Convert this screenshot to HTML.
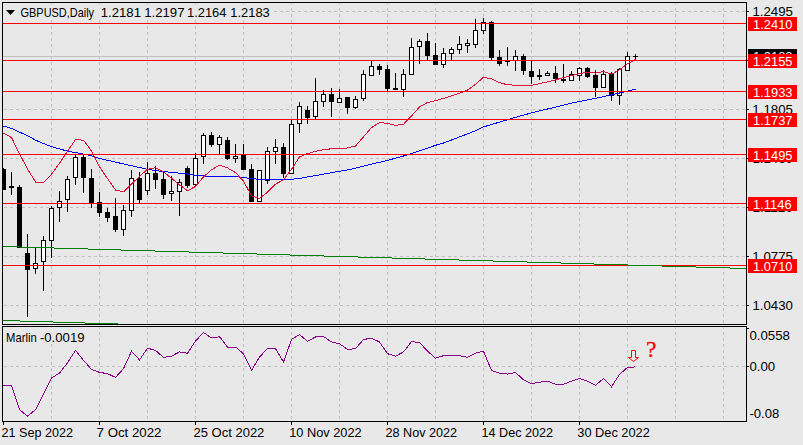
<!DOCTYPE html><html><head><meta charset="utf-8"><style>html,body{margin:0;padding:0;background:#e8e8e8;overflow:hidden}svg text{white-space:pre}</style></head><body><svg width="803" height="445" viewBox="0 0 803 445" style="display:block">
<rect width="803" height="445" fill="#e8e8e8"/>
<defs><clipPath id="cm"><rect x="3" y="3" width="743" height="321"/></clipPath><clipPath id="ci"><rect x="3" y="327" width="743" height="94"/></clipPath></defs>
<g stroke="#c0c0c0" stroke-width="1" stroke-dasharray="3,3" shape-rendering="crispEdges"><line x1="51.5" y1="3" x2="51.5" y2="324" stroke-dashoffset="1"/><line x1="51.5" y1="327" x2="51.5" y2="421" stroke-dashoffset="1"/><line x1="99.5" y1="3" x2="99.5" y2="324" stroke-dashoffset="1"/><line x1="99.5" y1="327" x2="99.5" y2="421" stroke-dashoffset="1"/><line x1="147.5" y1="3" x2="147.5" y2="324" stroke-dashoffset="1"/><line x1="147.5" y1="327" x2="147.5" y2="421" stroke-dashoffset="1"/><line x1="195.5" y1="3" x2="195.5" y2="324" stroke-dashoffset="1"/><line x1="195.5" y1="327" x2="195.5" y2="421" stroke-dashoffset="1"/><line x1="243.5" y1="3" x2="243.5" y2="324" stroke-dashoffset="1"/><line x1="243.5" y1="327" x2="243.5" y2="421" stroke-dashoffset="1"/><line x1="291.5" y1="3" x2="291.5" y2="324" stroke-dashoffset="1"/><line x1="291.5" y1="327" x2="291.5" y2="421" stroke-dashoffset="1"/><line x1="339.5" y1="3" x2="339.5" y2="324" stroke-dashoffset="1"/><line x1="339.5" y1="327" x2="339.5" y2="421" stroke-dashoffset="1"/><line x1="387.5" y1="3" x2="387.5" y2="324" stroke-dashoffset="1"/><line x1="387.5" y1="327" x2="387.5" y2="421" stroke-dashoffset="1"/><line x1="435.5" y1="3" x2="435.5" y2="324" stroke-dashoffset="1"/><line x1="435.5" y1="327" x2="435.5" y2="421" stroke-dashoffset="1"/><line x1="483.5" y1="3" x2="483.5" y2="324" stroke-dashoffset="1"/><line x1="483.5" y1="327" x2="483.5" y2="421" stroke-dashoffset="1"/><line x1="531.5" y1="3" x2="531.5" y2="324" stroke-dashoffset="1"/><line x1="531.5" y1="327" x2="531.5" y2="421" stroke-dashoffset="1"/><line x1="579.5" y1="3" x2="579.5" y2="324" stroke-dashoffset="1"/><line x1="579.5" y1="327" x2="579.5" y2="421" stroke-dashoffset="1"/><line x1="627.5" y1="3" x2="627.5" y2="324" stroke-dashoffset="1"/><line x1="627.5" y1="327" x2="627.5" y2="421" stroke-dashoffset="1"/><line x1="675.5" y1="3" x2="675.5" y2="324" stroke-dashoffset="1"/><line x1="675.5" y1="327" x2="675.5" y2="421" stroke-dashoffset="1"/><line x1="723.5" y1="3" x2="723.5" y2="324" stroke-dashoffset="1"/><line x1="723.5" y1="327" x2="723.5" y2="421" stroke-dashoffset="1"/><line x1="3" y1="11.5" x2="746" y2="11.5" stroke-dashoffset="5"/><line x1="3" y1="60.5" x2="746" y2="60.5" stroke-dashoffset="5"/><line x1="3" y1="109.5" x2="746" y2="109.5" stroke-dashoffset="5"/><line x1="3" y1="158.5" x2="746" y2="158.5" stroke-dashoffset="5"/><line x1="3" y1="207.5" x2="746" y2="207.5" stroke-dashoffset="5"/><line x1="3" y1="256.5" x2="746" y2="256.5" stroke-dashoffset="5"/><line x1="3" y1="305.5" x2="746" y2="305.5" stroke-dashoffset="5"/><line x1="3" y1="366.5" x2="746" y2="366.5" stroke-dashoffset="5"/></g>
<g clip-path="url(#cm)"><line x1="3" y1="56.5" x2="746" y2="56.5" stroke="#c0c0c0" stroke-width="1" shape-rendering="crispEdges"/><g shape-rendering="crispEdges"><rect x="3" y="168" width="1" height="22" fill="#000"/><rect x="1" y="169" width="5" height="21" fill="#000"/><rect x="11" y="172" width="1" height="23" fill="#000"/><rect x="9" y="186" width="5" height="2" fill="#000"/><rect x="19" y="185" width="1" height="63" fill="#000"/><rect x="17" y="187" width="5" height="61" fill="#000"/><rect x="27" y="234" width="1" height="83" fill="#000"/><rect x="25" y="253" width="5" height="17" fill="#000"/><rect x="35" y="247" width="1" height="27" fill="#000"/><rect x="33" y="263" width="5" height="6" fill="#000"/><rect x="34" y="264" width="3" height="4" fill="#fff"/><rect x="43" y="236" width="1" height="55" fill="#000"/><rect x="41" y="240" width="5" height="22" fill="#000"/><rect x="42" y="241" width="3" height="20" fill="#fff"/><rect x="51" y="206" width="1" height="52" fill="#000"/><rect x="49" y="208" width="5" height="33" fill="#000"/><rect x="50" y="209" width="3" height="31" fill="#fff"/><rect x="59" y="191" width="1" height="31" fill="#000"/><rect x="57" y="201" width="5" height="7" fill="#000"/><rect x="58" y="202" width="3" height="5" fill="#fff"/><rect x="67" y="176" width="1" height="36" fill="#000"/><rect x="65" y="179" width="5" height="21" fill="#000"/><rect x="66" y="180" width="3" height="19" fill="#fff"/><rect x="75" y="155" width="1" height="30" fill="#000"/><rect x="73" y="157" width="5" height="21" fill="#000"/><rect x="74" y="158" width="3" height="19" fill="#fff"/><rect x="83" y="155" width="1" height="38" fill="#000"/><rect x="81" y="157" width="5" height="21" fill="#000"/><rect x="91" y="169" width="1" height="39" fill="#000"/><rect x="89" y="178" width="5" height="25" fill="#000"/><rect x="99" y="192" width="1" height="25" fill="#000"/><rect x="97" y="202" width="5" height="11" fill="#000"/><rect x="107" y="208" width="1" height="14" fill="#000"/><rect x="105" y="212" width="5" height="6" fill="#000"/><rect x="115" y="198" width="1" height="34" fill="#000"/><rect x="113" y="216" width="5" height="14" fill="#000"/><rect x="123" y="205" width="1" height="31" fill="#000"/><rect x="121" y="210" width="5" height="20" fill="#000"/><rect x="122" y="211" width="3" height="18" fill="#fff"/><rect x="131" y="170" width="1" height="47" fill="#000"/><rect x="129" y="178" width="5" height="33" fill="#000"/><rect x="130" y="179" width="3" height="31" fill="#fff"/><rect x="139" y="172" width="1" height="31" fill="#000"/><rect x="137" y="178" width="5" height="22" fill="#000"/><rect x="147" y="162" width="1" height="33" fill="#000"/><rect x="145" y="173" width="5" height="18" fill="#000"/><rect x="146" y="174" width="3" height="16" fill="#fff"/><rect x="155" y="166" width="1" height="23" fill="#000"/><rect x="153" y="173" width="5" height="7" fill="#000"/><rect x="163" y="172" width="1" height="27" fill="#000"/><rect x="161" y="179" width="5" height="16" fill="#000"/><rect x="171" y="176" width="1" height="25" fill="#000"/><rect x="169" y="191" width="5" height="3" fill="#000"/><rect x="170" y="192" width="3" height="1" fill="#fff"/><rect x="179" y="179" width="1" height="37" fill="#000"/><rect x="177" y="182" width="5" height="10" fill="#000"/><rect x="178" y="183" width="3" height="8" fill="#fff"/><rect x="187" y="166" width="1" height="22" fill="#000"/><rect x="185" y="168" width="5" height="18" fill="#000"/><rect x="195" y="153" width="1" height="33" fill="#000"/><rect x="193" y="158" width="5" height="27" fill="#000"/><rect x="194" y="159" width="3" height="25" fill="#fff"/><rect x="203" y="133" width="1" height="31" fill="#000"/><rect x="201" y="135" width="5" height="22" fill="#000"/><rect x="202" y="136" width="3" height="20" fill="#fff"/><rect x="211" y="132" width="1" height="15" fill="#000"/><rect x="209" y="135" width="5" height="10" fill="#000"/><rect x="219" y="135" width="1" height="19" fill="#000"/><rect x="217" y="137" width="5" height="8" fill="#000"/><rect x="218" y="138" width="3" height="6" fill="#fff"/><rect x="227" y="137" width="1" height="23" fill="#000"/><rect x="225" y="140" width="5" height="19" fill="#000"/><rect x="235" y="144" width="1" height="19" fill="#000"/><rect x="233" y="156" width="5" height="3" fill="#000"/><rect x="234" y="157" width="3" height="1" fill="#fff"/><rect x="243" y="144" width="1" height="26" fill="#000"/><rect x="241" y="155" width="5" height="15" fill="#000"/><rect x="251" y="164" width="1" height="38" fill="#000"/><rect x="249" y="169" width="5" height="33" fill="#000"/><rect x="259" y="170" width="1" height="32" fill="#000"/><rect x="257" y="170" width="5" height="32" fill="#000"/><rect x="258" y="171" width="3" height="30" fill="#fff"/><rect x="267" y="147" width="1" height="37" fill="#000"/><rect x="265" y="151" width="5" height="30" fill="#000"/><rect x="266" y="152" width="3" height="28" fill="#fff"/><rect x="275" y="139" width="1" height="25" fill="#000"/><rect x="273" y="147" width="5" height="5" fill="#000"/><rect x="274" y="148" width="3" height="3" fill="#fff"/><rect x="283" y="143" width="1" height="35" fill="#000"/><rect x="281" y="147" width="5" height="27" fill="#000"/><rect x="291" y="120" width="1" height="54" fill="#000"/><rect x="289" y="124" width="5" height="50" fill="#000"/><rect x="290" y="125" width="3" height="48" fill="#fff"/><rect x="299" y="102" width="1" height="31" fill="#000"/><rect x="297" y="106" width="5" height="18" fill="#000"/><rect x="298" y="107" width="3" height="16" fill="#fff"/><rect x="307" y="106" width="1" height="18" fill="#000"/><rect x="305" y="110" width="5" height="8" fill="#000"/><rect x="315" y="78" width="1" height="41" fill="#000"/><rect x="313" y="101" width="5" height="16" fill="#000"/><rect x="314" y="102" width="3" height="14" fill="#fff"/><rect x="323" y="90" width="1" height="17" fill="#000"/><rect x="321" y="94" width="5" height="8" fill="#000"/><rect x="322" y="95" width="3" height="6" fill="#fff"/><rect x="331" y="88" width="1" height="29" fill="#000"/><rect x="329" y="94" width="5" height="8" fill="#000"/><rect x="339" y="89" width="1" height="14" fill="#000"/><rect x="337" y="98" width="5" height="5" fill="#000"/><rect x="338" y="99" width="3" height="3" fill="#fff"/><rect x="347" y="97" width="1" height="17" fill="#000"/><rect x="345" y="97" width="5" height="11" fill="#000"/><rect x="355" y="96" width="1" height="13" fill="#000"/><rect x="353" y="99" width="5" height="9" fill="#000"/><rect x="354" y="100" width="3" height="7" fill="#fff"/><rect x="363" y="70" width="1" height="31" fill="#000"/><rect x="361" y="74" width="5" height="25" fill="#000"/><rect x="362" y="75" width="3" height="23" fill="#fff"/><rect x="371" y="61" width="1" height="15" fill="#000"/><rect x="369" y="66" width="5" height="10" fill="#000"/><rect x="370" y="67" width="3" height="8" fill="#fff"/><rect x="379" y="64" width="1" height="11" fill="#000"/><rect x="377" y="66" width="5" height="4" fill="#000"/><rect x="387" y="65" width="1" height="26" fill="#000"/><rect x="385" y="69" width="5" height="20" fill="#000"/><rect x="395" y="73" width="1" height="17" fill="#000"/><rect x="393" y="88" width="5" height="2" fill="#000"/><rect x="403" y="69" width="1" height="28" fill="#000"/><rect x="401" y="74" width="5" height="16" fill="#000"/><rect x="402" y="75" width="3" height="14" fill="#fff"/><rect x="411" y="38" width="1" height="37" fill="#000"/><rect x="409" y="47" width="5" height="28" fill="#000"/><rect x="410" y="48" width="3" height="26" fill="#fff"/><rect x="419" y="39" width="1" height="25" fill="#000"/><rect x="417" y="41" width="5" height="6" fill="#000"/><rect x="418" y="42" width="3" height="4" fill="#fff"/><rect x="427" y="33" width="1" height="27" fill="#000"/><rect x="425" y="41" width="5" height="15" fill="#000"/><rect x="435" y="43" width="1" height="22" fill="#000"/><rect x="433" y="55" width="5" height="10" fill="#000"/><rect x="443" y="48" width="1" height="20" fill="#000"/><rect x="441" y="53" width="5" height="12" fill="#000"/><rect x="442" y="54" width="3" height="10" fill="#fff"/><rect x="451" y="47" width="1" height="13" fill="#000"/><rect x="449" y="49" width="5" height="5" fill="#000"/><rect x="450" y="50" width="3" height="3" fill="#fff"/><rect x="459" y="36" width="1" height="18" fill="#000"/><rect x="457" y="44" width="5" height="6" fill="#000"/><rect x="458" y="45" width="3" height="4" fill="#fff"/><rect x="467" y="39" width="1" height="14" fill="#000"/><rect x="465" y="43" width="5" height="3" fill="#000"/><rect x="466" y="44" width="3" height="1" fill="#fff"/><rect x="475" y="19" width="1" height="29" fill="#000"/><rect x="473" y="30" width="5" height="15" fill="#000"/><rect x="474" y="31" width="3" height="13" fill="#fff"/><rect x="483" y="18" width="1" height="16" fill="#000"/><rect x="481" y="22" width="5" height="9" fill="#000"/><rect x="482" y="23" width="3" height="7" fill="#fff"/><rect x="491" y="21" width="1" height="39" fill="#000"/><rect x="489" y="22" width="5" height="36" fill="#000"/><rect x="499" y="50" width="1" height="16" fill="#000"/><rect x="497" y="57" width="5" height="7" fill="#000"/><rect x="507" y="47" width="1" height="19" fill="#000"/><rect x="505" y="61" width="5" height="1" fill="#000"/><rect x="515" y="50" width="1" height="21" fill="#000"/><rect x="513" y="56" width="5" height="5" fill="#000"/><rect x="514" y="57" width="3" height="3" fill="#fff"/><rect x="523" y="54" width="1" height="21" fill="#000"/><rect x="521" y="56" width="5" height="15" fill="#000"/><rect x="531" y="61" width="1" height="23" fill="#000"/><rect x="529" y="71" width="5" height="6" fill="#000"/><rect x="539" y="69" width="1" height="11" fill="#000"/><rect x="537" y="75" width="5" height="2" fill="#000"/><rect x="547" y="71" width="1" height="5" fill="#000"/><rect x="545" y="73" width="5" height="3" fill="#000"/><rect x="546" y="74" width="3" height="1" fill="#fff"/><rect x="555" y="66" width="1" height="17" fill="#000"/><rect x="553" y="73" width="5" height="6" fill="#000"/><rect x="563" y="64" width="1" height="19" fill="#000"/><rect x="561" y="79" width="5" height="2" fill="#000"/><rect x="571" y="71" width="1" height="10" fill="#000"/><rect x="569" y="74" width="5" height="7" fill="#000"/><rect x="570" y="75" width="3" height="5" fill="#fff"/><rect x="579" y="67" width="1" height="14" fill="#000"/><rect x="577" y="68" width="5" height="8" fill="#000"/><rect x="578" y="69" width="3" height="6" fill="#fff"/><rect x="587" y="67" width="1" height="11" fill="#000"/><rect x="585" y="68" width="5" height="9" fill="#000"/><rect x="595" y="70" width="1" height="27" fill="#000"/><rect x="593" y="75" width="5" height="13" fill="#000"/><rect x="603" y="70" width="1" height="18" fill="#000"/><rect x="601" y="74" width="5" height="14" fill="#000"/><rect x="602" y="75" width="3" height="12" fill="#fff"/><rect x="611" y="72" width="1" height="29" fill="#000"/><rect x="609" y="74" width="5" height="22" fill="#000"/><rect x="619" y="68" width="1" height="37" fill="#000"/><rect x="617" y="69" width="5" height="27" fill="#000"/><rect x="618" y="70" width="3" height="25" fill="#fff"/><rect x="627" y="52" width="1" height="19" fill="#000"/><rect x="625" y="56" width="5" height="15" fill="#000"/><rect x="626" y="57" width="3" height="13" fill="#fff"/></g><polyline points="3.5,126.1 11.5,128.4 19.5,132.1 27.5,135.6 35.5,140.2 43.5,143.5 51.5,146.6 59.5,148.9 67.5,151.1 75.5,152.6 83.5,154.1 91.5,155.8 99.5,158.4 107.5,160.3 115.5,162.1 123.5,163.9 131.5,165.7 139.5,167.5 147.5,169.3 155.5,170.5 163.5,171.6 171.5,172.4 179.5,173.2 187.5,174.0 195.5,175.5 203.5,176.0 211.5,176.3 219.5,176.4 227.5,176.6 235.5,176.7 243.5,177.5 251.5,178.7 259.5,179.3 267.5,179.3 275.5,179.3 283.5,179.3 291.5,179.3 299.5,178.5 307.5,177.0 315.5,175.6 323.5,174.1 331.5,172.7 339.5,171.2 347.5,170.0 355.5,168.1 363.5,166.1 371.5,164.1 379.5,162.3 387.5,160.4 395.5,158.2 403.5,156.0 411.5,153.6 419.5,150.8 427.5,148.1 435.5,145.3 443.5,143.0 451.5,140.0 459.5,136.9 467.5,133.9 475.5,130.7 483.5,126.9 491.5,124.5 499.5,122.1 507.5,119.7 515.5,117.4 523.5,115.1 531.5,112.9 539.5,110.9 547.5,109.0 555.5,107.1 563.5,105.1 571.5,103.2 579.5,101.5 587.5,99.9 595.5,98.3 603.5,96.6 611.5,94.8 619.5,93.0 627.5,91.1 635.5,89.3" fill="none" stroke="#0000ff" stroke-width="1" shape-rendering="crispEdges"/><polyline points="3.5,133.2 11.5,137.5 19.5,153.9 27.5,168.9 35.5,182.1 43.5,182.5 51.5,174.3 59.5,163.2 67.5,151.2 75.5,139.6 83.5,140.2 91.5,151.0 99.5,166.7 107.5,178.6 115.5,190.0 123.5,191.8 131.5,184.1 139.5,176.4 147.5,169.2 155.5,167.7 163.5,171.8 171.5,178.3 179.5,184.9 187.5,190.7 195.5,186.5 203.5,176.9 211.5,169.8 219.5,165.2 227.5,167.9 235.5,172.6 243.5,181.2 251.5,195.7 259.5,198.4 267.5,192.1 275.5,184.1 283.5,179.8 291.5,169.3 299.5,156.9 307.5,153.6 315.5,151.4 323.5,149.6 331.5,148.8 339.5,148.3 347.5,148.0 355.5,146.0 363.5,136.8 371.5,127.6 379.5,122.5 387.5,123.4 395.5,125.3 403.5,124.3 411.5,115.9 419.5,107.0 427.5,102.5 435.5,100.7 443.5,98.4 451.5,95.8 459.5,93.2 467.5,90.1 475.5,84.3 483.5,77.3 491.5,78.9 499.5,82.7 507.5,84.8 515.5,85.2 523.5,85.6 531.5,85.3 539.5,83.7 547.5,81.8 555.5,79.8 563.5,77.7 571.5,75.7 579.5,73.6 587.5,72.3 595.5,73.1 603.5,71.5 611.5,74.3 619.5,69.8 627.5,63.8 635.5,59.3" fill="none" stroke="#dc143c" stroke-width="1" shape-rendering="crispEdges"/><line x1="3" y1="23.5" x2="746" y2="23.5" stroke="#ff0000" stroke-width="1" shape-rendering="crispEdges"/><line x1="3" y1="60.5" x2="746" y2="60.5" stroke="#ff0000" stroke-width="1" shape-rendering="crispEdges"/><line x1="3" y1="91.5" x2="746" y2="91.5" stroke="#ff0000" stroke-width="1" shape-rendering="crispEdges"/><line x1="3" y1="119.5" x2="746" y2="119.5" stroke="#ff0000" stroke-width="1" shape-rendering="crispEdges"/><line x1="3" y1="154.5" x2="746" y2="154.5" stroke="#ff0000" stroke-width="1" shape-rendering="crispEdges"/><line x1="3" y1="203.5" x2="746" y2="203.5" stroke="#ff0000" stroke-width="1" shape-rendering="crispEdges"/><line x1="3" y1="265.5" x2="746" y2="265.5" stroke="#ff0000" stroke-width="1" shape-rendering="crispEdges"/><path d="M2 246.5H20M20 247.5H54M54 248.5H88M88 249.5H121M121 250.5H155M155 251.5H189M189 252.5H223M223 253.5H257M257 254.5H290M290 255.5H324M324 256.5H358M358 257.5H392M392 258.5H425M425 259.5H459M459 260.5H493M493 261.5H527M527 262.5H561M561 263.5H594M594 264.5H628M628 265.5H662M662 266.5H696M696 267.5H730M730 268.5H746" stroke="#008000" stroke-width="1" fill="none" shape-rendering="crispEdges"/><path d="M2 320.5H20M20 321.5H53M53 322.5H85M85 323.5H118M118 324.5H746" stroke="#008000" stroke-width="1" fill="none" shape-rendering="crispEdges"/><path d="M633 56.5H638M635.5 54V59" stroke="#000" stroke-width="1" shape-rendering="crispEdges"/></g>
<g clip-path="url(#ci)"><polyline points="3.5,386.0 11.5,385.3 19.5,409.8 27.5,416.0 35.5,409.8 43.5,394.0 51.5,378.0 59.5,373.0 67.5,362.8 75.5,350.4 83.5,360.3 91.5,369.4 99.5,372.4 107.5,373.6 115.5,377.4 123.5,368.6 131.5,351.2 139.5,359.9 147.5,348.2 155.5,350.4 163.5,357.4 171.5,356.2 179.5,351.9 187.5,353.2 195.5,341.0 203.5,332.5 211.5,338.0 219.5,336.7 227.5,347.0 235.5,347.0 243.5,353.7 251.5,370.4 259.5,356.9 267.5,348.7 275.5,348.7 283.5,361.9 291.5,339.5 299.5,334.5 307.5,341.2 315.5,337.0 323.5,336.5 331.5,342.0 339.5,343.7 347.5,349.4 355.5,348.7 363.5,339.5 371.5,338.2 379.5,342.0 387.5,353.7 395.5,356.2 403.5,351.9 411.5,341.7 419.5,342.4 427.5,351.2 435.5,358.2 443.5,355.7 451.5,355.7 459.5,355.7 467.5,357.4 475.5,353.2 483.5,351.2 491.5,370.4 499.5,373.1 507.5,374.1 515.5,372.4 523.5,379.9 531.5,383.6 539.5,382.3 547.5,381.1 555.5,384.3 563.5,384.3 571.5,381.1 579.5,378.6 587.5,381.1 595.5,385.3 603.5,378.6 611.5,386.8 619.5,374.4 627.5,367.4 635.5,366.9" fill="none" stroke="#8b008b" stroke-width="1" shape-rendering="crispEdges"/><path d="M631.5 350.5H635.5V357.5H638.5L633.5 361.5L628.5 357.5H631.5Z" fill="none" stroke="#ff0000" stroke-width="1"/></g>
<text x="646" y="357.3" font-family="Liberation Serif, serif" font-size="23.5" fill="#ff0000" stroke="#ff0000" stroke-width="0.3">?</text>
<g fill="none" stroke="#000" stroke-width="1" shape-rendering="crispEdges"><rect x="2.5" y="2.5" width="744" height="322"/><rect x="2.5" y="326.5" width="744" height="95"/></g>
<rect x="747" y="11" width="2" height="1" fill="#000"/><text id="p12495" x="752.42" y="16" font-family="Liberation Sans, sans-serif" font-size="12.4" fill="#000" textLength="40.54" lengthAdjust="spacingAndGlyphs">1.2495</text><rect x="747" y="109" width="2" height="1" fill="#000"/><text id="p11805" x="752.34" y="114" font-family="Liberation Sans, sans-serif" font-size="12.4" fill="#000" textLength="40.64" lengthAdjust="spacingAndGlyphs">1.1805</text><rect x="747" y="256" width="2" height="1" fill="#000"/><text id="p10775" x="752.34" y="261" font-family="Liberation Sans, sans-serif" font-size="12.4" fill="#000" textLength="40.64" lengthAdjust="spacingAndGlyphs">1.0775</text><rect x="747" y="305" width="2" height="1" fill="#000"/><text id="p10430" x="752.42" y="310" font-family="Liberation Sans, sans-serif" font-size="12.4" fill="#000" textLength="40.54" lengthAdjust="spacingAndGlyphs">1.0430</text><rect x="747" y="60" width="2" height="1" fill="#000"/><text id="p12150" x="752.42" y="65" font-family="Liberation Sans, sans-serif" font-size="12.4" fill="#000" textLength="40.54" lengthAdjust="spacingAndGlyphs">1.2150</text><rect x="747" y="158" width="2" height="1" fill="#000"/><text id="p11460" x="752.42" y="163" font-family="Liberation Sans, sans-serif" font-size="12.4" fill="#000" textLength="40.54" lengthAdjust="spacingAndGlyphs">1.1460</text><rect x="747" y="207" width="2" height="1" fill="#000"/><text id="p11120" x="752.42" y="212" font-family="Liberation Sans, sans-serif" font-size="12.4" fill="#000" textLength="40.54" lengthAdjust="spacingAndGlyphs">1.1120</text><rect x="748" y="49" width="49" height="14" fill="#000"/><text id="bid" x="753.05" y="61" font-family="Liberation Sans, sans-serif" font-size="12.4" fill="#fff" textLength="39.49" lengthAdjust="spacingAndGlyphs">1.2183</text><rect x="748" y="17" width="49" height="14" fill="#ff0000"/><text id="r12410" x="753.05" y="29" font-family="Liberation Sans, sans-serif" font-size="12.4" fill="#fff" textLength="39.49" lengthAdjust="spacingAndGlyphs">1.2410</text><rect x="748" y="54" width="49" height="14" fill="#ff0000"/><text id="r12155" x="753.05" y="66" font-family="Liberation Sans, sans-serif" font-size="12.4" fill="#fff" textLength="39.49" lengthAdjust="spacingAndGlyphs">1.2155</text><rect x="748" y="85" width="49" height="14" fill="#ff0000"/><text id="r11933" x="753.05" y="97" font-family="Liberation Sans, sans-serif" font-size="12.4" fill="#fff" textLength="39.49" lengthAdjust="spacingAndGlyphs">1.1933</text><rect x="748" y="113" width="49" height="14" fill="#ff0000"/><text id="r11737" x="753.05" y="125" font-family="Liberation Sans, sans-serif" font-size="12.4" fill="#fff" textLength="39.49" lengthAdjust="spacingAndGlyphs">1.1737</text><rect x="748" y="148" width="49" height="14" fill="#ff0000"/><text id="r11495" x="753.05" y="160" font-family="Liberation Sans, sans-serif" font-size="12.4" fill="#fff" textLength="39.49" lengthAdjust="spacingAndGlyphs">1.1495</text><rect x="748" y="197" width="49" height="14" fill="#ff0000"/><text id="r11146" x="753.04" y="209" font-family="Liberation Sans, sans-serif" font-size="12.4" fill="#fff" textLength="38.60" lengthAdjust="spacingAndGlyphs">1.1146</text><rect x="748" y="259" width="49" height="14" fill="#ff0000"/><text id="r10710" x="753.05" y="271" font-family="Liberation Sans, sans-serif" font-size="12.4" fill="#fff" textLength="39.49" lengthAdjust="spacingAndGlyphs">1.0710</text><rect x="747" y="328" width="2" height="1" fill="#000"/><text id="i1" x="749.43" y="340" font-family="Liberation Sans, sans-serif" font-size="12.4" fill="#000" textLength="40.55" lengthAdjust="spacingAndGlyphs">0.0558</text><rect x="747" y="366" width="2" height="1" fill="#000"/><text id="i2" x="749.42" y="371" font-family="Liberation Sans, sans-serif" font-size="12.4" fill="#000" textLength="25.78" lengthAdjust="spacingAndGlyphs">0.00</text><text id="i3" x="749.43" y="418" font-family="Liberation Sans, sans-serif" font-size="12.4" fill="#000" textLength="29.92" lengthAdjust="spacingAndGlyphs">-0.08</text><rect x="3" y="422" width="1" height="3" fill="#000"/><text id="t0" x="1.59" y="437" font-family="Liberation Sans, sans-serif" font-size="12.4" fill="#000" textLength="71.30" lengthAdjust="spacingAndGlyphs">21 Sep 2022</text><rect x="99" y="422" width="1" height="3" fill="#000"/><text id="t1" x="96.64" y="437" font-family="Liberation Sans, sans-serif" font-size="12.4" fill="#000" textLength="64.85" lengthAdjust="spacingAndGlyphs">7 Oct 2022</text><rect x="195" y="422" width="1" height="3" fill="#000"/><text id="t2" x="193.56" y="437" font-family="Liberation Sans, sans-serif" font-size="12.4" fill="#000" textLength="70.79" lengthAdjust="spacingAndGlyphs">25 Oct 2022</text><rect x="291" y="422" width="1" height="3" fill="#000"/><text id="t3" x="289.16" y="437" font-family="Liberation Sans, sans-serif" font-size="12.4" fill="#000" textLength="72.56" lengthAdjust="spacingAndGlyphs">10 Nov 2022</text><rect x="387" y="422" width="1" height="3" fill="#000"/><text id="t4" x="385.58" y="437" font-family="Liberation Sans, sans-serif" font-size="12.4" fill="#000" textLength="71.54" lengthAdjust="spacingAndGlyphs">28 Nov 2022</text><rect x="483" y="422" width="1" height="3" fill="#000"/><text id="t5" x="481.58" y="437" font-family="Liberation Sans, sans-serif" font-size="12.4" fill="#000" textLength="71.54" lengthAdjust="spacingAndGlyphs">14 Dec 2022</text><rect x="579" y="422" width="1" height="3" fill="#000"/><text id="t6" x="577.27" y="437" font-family="Liberation Sans, sans-serif" font-size="12.4" fill="#000" textLength="72.56" lengthAdjust="spacingAndGlyphs">30 Dec 2022</text><rect x="3" y="5" width="268" height="14" fill="#e8e8e8"/><path d="M6 10H15L10.5 15Z" fill="#000"/><text id="ttl" x="20.54" y="17" font-family="Liberation Sans, sans-serif" font-size="12.4" fill="#000" textLength="73.55" lengthAdjust="spacingAndGlyphs">GBPUSD,Daily</text><text id="o0" x="100.71" y="17" font-family="Liberation Sans, sans-serif" font-size="12.4" fill="#000" textLength="40.35" lengthAdjust="spacingAndGlyphs">1.2181</text><text id="o1" x="144.21" y="17" font-family="Liberation Sans, sans-serif" font-size="12.4" fill="#000" textLength="40.27" lengthAdjust="spacingAndGlyphs">1.2197</text><text id="o2" x="187.04" y="17" font-family="Liberation Sans, sans-serif" font-size="12.4" fill="#000" textLength="39.38" lengthAdjust="spacingAndGlyphs">1.2164</text><text id="o3" x="230.35" y="17" font-family="Liberation Sans, sans-serif" font-size="12.4" fill="#000" textLength="39.38" lengthAdjust="spacingAndGlyphs">1.2183</text><rect x="3" y="328" width="84" height="16" fill="#e8e8e8"/><text id="m1" x="6.11" y="342" font-family="Liberation Sans, sans-serif" font-size="12.4" fill="#000" textLength="30.57" lengthAdjust="spacingAndGlyphs">Marlin</text><text id="m2" x="39.91" y="342" font-family="Liberation Sans, sans-serif" font-size="12.4" fill="#000" textLength="44.67" lengthAdjust="spacingAndGlyphs">-0.0019</text>
</svg></body></html>
